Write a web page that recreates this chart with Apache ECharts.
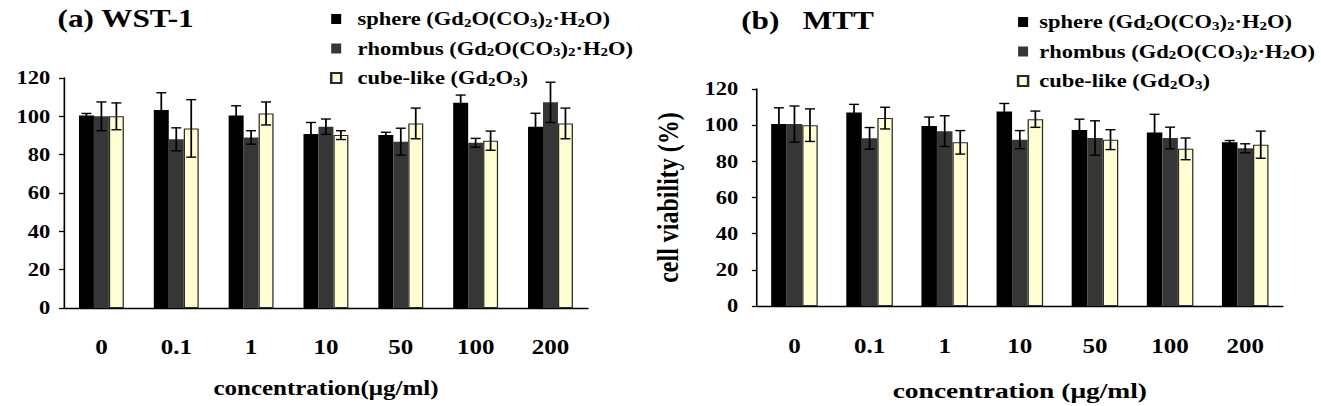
<!DOCTYPE html>
<html>
<head>
<meta charset="utf-8">
<script src="https://cdn.jsdelivr.net/npm/echarts@6/dist/echarts.min.js"></script>
<style>
  html, body { margin: 0; padding: 0; background: #fff; overflow: hidden; }
  /* the figure is stretched sideways, so draw narrow and scale the box */
  #main { width: 1057px; height: 406px; transform: scaleX(1.2498); transform-origin: 0 0; }
</style>
</head>
<body>
<div id="main"></div>
<script>
// concentration (ug/ml)
const categories = ['0', '0.1', '1', '10', '50', '100', '200'];
const seriesNames = ['sphere', 'rhombus', 'cube-like'];
const legendLabels = [
  'sphere (Gd{s|2}O(CO{s|3}){s|2}·H{s|2}O)',
  'rhombus (Gd{s|2}O(CO{s|3}){s|2}·H{s|2}O)',
  'cube-like (Gd{s|2}O{s|3})'
];
const yTicks = [0, 20, 40, 60, 80, 100, 120];

// (a) WST-1
const wstSphere = [100.5, 103.3, 100.5, 90.8, 90.2, 107.1, 94.6];
const wstSphereErr = [1, 9, 5, 6, 1.5, 4, 7];
const wstRhombus = [100, 88, 89, 94.6, 86.8, 86.2, 107.3];
const wstRhombusErr = [7.5, 6, 3.5, 4, 7, 2.3, 10.5];
const wstCube = [100, 93.7, 101.5, 90.2, 96.3, 87.3, 96.3];
const wstCubeErr = [7, 15, 6, 2.3, 8, 5, 8];

// (b) MTT
const mttSphere = [100.6, 107, 99.5, 107.5, 97.3, 96, 90.5];
const mttSphereErr = [9, 4.5, 5, 4.5, 6, 10, 1];
const mttRhombus = [100.6, 92.7, 96.7, 92, 92.9, 92.9, 87.2];
const mttRhombusErr = [10, 6, 8.5, 5, 9.5, 6, 2.5];
const mttCube = [100, 103.9, 90.5, 103.3, 92, 86.9, 89.2];
const mttCubeErr = [9, 6, 6.5, 4.5, 5.5, 6, 7.5];

const FONT = "'Liberation Serif', 'Times New Roman', serif";
const colors = ['#000000', '#363636', '#fefed2'];
const gaps = [0.40, 0.38];

const chart = echarts.init(document.getElementById('main'), null, { renderer: 'svg' });

function errData(groups) {
  const out = [];
  groups.forEach(function (g, s) {
    g[0].forEach(function (v, i) {
      out.push([i, v - g[1][i], v + g[1][i], s]);
    });
  });
  return out;
}

function errRender(gap) {
  return function (params, api) {
    const cat = api.value(0);
    const s = api.value(3);
    const band = api.size([1, 0])[0];
    const w = band * (1 - gap) / 3;
    const cx = api.coord([cat, 0])[0] - 1.5 * w + w * (s + 0.5);
    const top = api.coord([cat, api.value(2)])[1];
    const bot = api.coord([cat, api.value(1)])[1];
    const cap = 4;
    const st = { stroke: '#000', lineWidth: 1.4 };
    return {
      type: 'group',
      children: [
        { type: 'line', shape: { x1: cx, y1: top, x2: cx, y2: bot }, style: st },
        { type: 'line', shape: { x1: cx - cap, y1: top, x2: cx + cap, y2: top }, style: st },
        { type: 'line', shape: { x1: cx - cap, y1: bot, x2: cx + cap, y2: bot }, style: st }
      ]
    };
  };
}

function barSeries(idx, vals, k) {
  return {
    name: seriesNames[k],
    type: 'bar',
    xAxisIndex: idx,
    yAxisIndex: idx,
    data: vals,
    barGap: 0,
    barCategoryGap: (gaps[idx] * 100) + '%',
    itemStyle: k === 2 ? { color: colors[2], borderColor: '#2a2a2a', borderWidth: 1 } : { color: colors[k] },
    emphasis: { disabled: true }
  };
}

function xAxis(idx, name, size, gap, margin) {
  return {
    type: 'category',
    gridIndex: idx,
    data: categories,
    axisLine: { lineStyle: { color: '#000', width: 1.3 } },
    axisTick: { inside: true, length: 5, interval: 0, lineStyle: { color: '#000', width: 1.3 } },
    axisLabel: { interval: 0, margin: margin, fontFamily: FONT, fontWeight: 'bold', fontSize: 20, color: '#000' },
    name: name,
    nameLocation: 'middle',
    nameGap: gap,
    nameTextStyle: { fontFamily: FONT, fontWeight: 'bold', fontSize: size, color: '#000' }
  };
}

function yAxis(idx, margin, extra) {
  return Object.assign({
    type: 'value',
    gridIndex: idx,
    min: yTicks[0],
    max: yTicks[yTicks.length - 1],
    interval: yTicks[1] - yTicks[0],
    axisLine: { show: true, lineStyle: { color: '#000', width: 1.3 } },
    axisTick: { show: true, length: 4, lineStyle: { color: '#000', width: 1.3 } },
    splitLine: { show: false },
    axisLabel: { margin: margin, fontFamily: FONT, fontWeight: 'bold', fontSize: 18, color: '#000' }
  }, extra || {});
}

function legend(left, top, pad) {
  return {
    orient: 'vertical',
    left: left,
    top: top,
    itemGap: 9.5,
    itemWidth: 8,
    itemHeight: 10,
    icon: 'rect',
    padding: 0,
    selectedMode: false,
    data: seriesNames,
    formatter: function (n) { return '{g|}' + legendLabels[seriesNames.indexOf(n)]; },
    textStyle: {
      fontFamily: FONT, fontWeight: 'bold', fontSize: 18, lineHeight: 20, color: '#000',
      rich: {
        g: { width: pad },
        s: { fontFamily: FONT, fontWeight: 'bold', fontSize: 12, lineHeight: 8, verticalAlign: 'bottom', color: '#000' }
      }
    }
  };
}

const titleStyle = { fontFamily: FONT, fontWeight: 'bold', fontSize: 25, color: '#000' };

const option = {
  animation: false,
  backgroundColor: '#fff',
  title: [
    { text: '(a) WST-1', left: 46, top: 6, padding: 0, textStyle: titleStyle },
    { text: '(b)   MTT', left: 593, top: 8, padding: 0, textStyle: titleStyle }
  ],
  legend: [legend(264, 9, 8), legend(813.6, 12, 4)],
  grid: [
    { left: 51.2, top: 78, width: 419.2, height: 230 },
    { left: 605.6, top: 89, width: 420.8, height: 219 }
  ],
  xAxis: [
    xAxis(0, 'concentration(μg/ml)', 20, 70, 29),
    xAxis(1, 'concentration (μg/ml)', 22, 73, 30)
  ],
  yAxis: [
    yAxis(0, 11),
    yAxis(1, 15, {
      name: 'cell viability (%)',
      nameLocation: 'middle',
      nameGap: 59,
      nameTextStyle: { fontFamily: FONT, fontWeight: 'bold', fontSize: 24, color: '#000' }
    })
  ],
  series: [
    barSeries(0, wstSphere, 0),
    barSeries(0, wstRhombus, 1),
    barSeries(0, wstCube, 2),
    {
      name: 'err-a', type: 'custom', xAxisIndex: 0, yAxisIndex: 0, z: 5,
      renderItem: errRender(gaps[0]),
      encode: { x: 0, y: [1, 2] },
      data: errData([[wstSphere, wstSphereErr], [wstRhombus, wstRhombusErr], [wstCube, wstCubeErr]])
    },
    barSeries(1, mttSphere, 0),
    barSeries(1, mttRhombus, 1),
    barSeries(1, mttCube, 2),
    {
      name: 'err-b', type: 'custom', xAxisIndex: 1, yAxisIndex: 1, z: 5,
      renderItem: errRender(gaps[1]),
      encode: { x: 0, y: [1, 2] },
      data: errData([[mttSphere, mttSphereErr], [mttRhombus, mttRhombusErr], [mttCube, mttCubeErr]])
    }
  ]
};

chart.setOption(option);
</script>
</body>
</html>
